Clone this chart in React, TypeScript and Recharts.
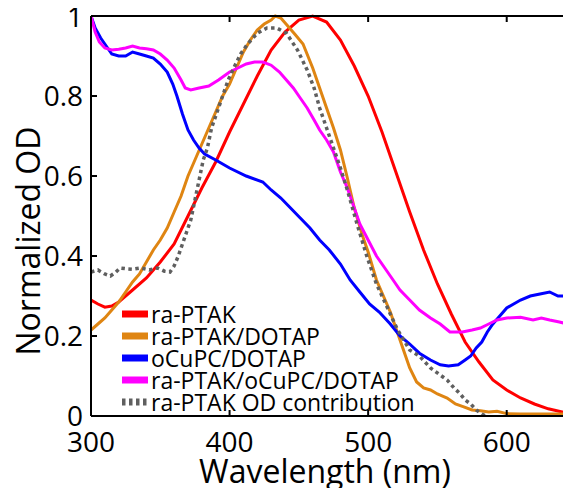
import { LineChart, Line, XAxis, YAxis, Legend } from "recharts";

// wavelength (nm) / normalized OD
const ptakWl = [300, 305, 310, 315, 320, 330, 340, 350, 360, 370, 380, 390, 400, 410, 420, 430, 440, 450, 460, 470, 480, 490, 500, 510, 520, 530, 540, 550, 560, 570, 580, 590, 600, 610, 620, 630, 640, 650];
const ptakOd = [0.29, 0.28, 0.272, 0.275, 0.285, 0.315, 0.345, 0.385, 0.43, 0.5, 0.57, 0.635, 0.71, 0.78, 0.85, 0.915, 0.96, 0.99, 1.0, 0.985, 0.94, 0.875, 0.8, 0.71, 0.61, 0.51, 0.415, 0.33, 0.255, 0.185, 0.135, 0.09, 0.065, 0.045, 0.03, 0.018, 0.01, 0.008];

const dotapWl = [300, 305, 310, 315, 320, 325, 330, 335, 340, 345, 350, 355, 360, 365, 370, 375, 380, 385, 390, 395, 400, 405, 410, 415, 420, 425, 430, 433, 437, 442, 447, 453, 460, 465, 470, 475, 480, 485, 490, 496, 500, 506, 511, 516, 521, 526, 530, 535, 540, 545, 550, 557, 563, 569, 575, 581, 587, 593, 600, 610, 620, 630, 640, 650];
const dotapOd = [0.215, 0.23, 0.245, 0.265, 0.285, 0.31, 0.335, 0.355, 0.385, 0.415, 0.44, 0.47, 0.51, 0.55, 0.6, 0.64, 0.68, 0.72, 0.76, 0.8, 0.83, 0.87, 0.91, 0.94, 0.965, 0.98, 0.99, 1.0, 0.995, 0.975, 0.955, 0.93, 0.87, 0.82, 0.77, 0.72, 0.665, 0.595, 0.52, 0.45, 0.41, 0.34, 0.3, 0.26, 0.21, 0.16, 0.12, 0.085, 0.07, 0.065, 0.055, 0.045, 0.03, 0.023, 0.015, 0.013, 0.01, 0.012, 0.006, 0.005, 0.005, 0.005, 0.005, 0.005];

const cupcWl = [300, 303, 307, 311, 315, 320, 325, 330, 335, 340, 345, 350, 355, 359, 362, 366, 370, 374, 378, 382, 390, 400, 412, 424, 430, 437, 444, 451, 458, 465, 472, 480, 487, 494, 501, 508, 516, 523, 530, 537, 545, 552, 558, 565, 570, 574, 578, 582, 586, 590, 595, 600, 605, 610, 617, 624, 631, 637, 645, 650];
const cupcOd = [1.0, 0.97, 0.945, 0.925, 0.905, 0.9, 0.9, 0.91, 0.905, 0.9, 0.895, 0.88, 0.86, 0.83, 0.8, 0.755, 0.715, 0.69, 0.67, 0.655, 0.64, 0.62, 0.6, 0.585, 0.565, 0.545, 0.52, 0.495, 0.47, 0.44, 0.415, 0.38, 0.34, 0.31, 0.28, 0.26, 0.23, 0.2, 0.18, 0.157, 0.14, 0.128, 0.125, 0.128, 0.14, 0.15, 0.17, 0.185, 0.21, 0.23, 0.25, 0.27, 0.28, 0.29, 0.3, 0.305, 0.31, 0.3, 0.3, 0.3];

const mixWl = [300, 303, 306, 310, 315, 320, 325, 330, 335, 340, 345, 350, 355, 360, 365, 368, 372, 378, 385, 392, 400, 406, 412, 418, 424, 430, 436, 441, 446, 451, 456, 461, 465, 470, 475, 480, 485, 490, 494, 500, 506, 512, 518, 523, 530, 537, 545, 552, 559, 568, 575, 581, 587, 593, 600, 610, 619, 625, 631, 638, 646, 650];
const mixOd = [1.0, 0.96, 0.935, 0.92, 0.915, 0.917, 0.92, 0.925, 0.92, 0.918, 0.915, 0.905, 0.89, 0.87, 0.84, 0.82, 0.815, 0.82, 0.825, 0.84, 0.86, 0.87, 0.88, 0.885, 0.885, 0.877, 0.86, 0.84, 0.82, 0.795, 0.77, 0.74, 0.715, 0.69, 0.66, 0.61, 0.57, 0.52, 0.48, 0.44, 0.4, 0.37, 0.34, 0.315, 0.29, 0.265, 0.245, 0.23, 0.21, 0.21, 0.215, 0.22, 0.23, 0.24, 0.245, 0.247, 0.24, 0.245, 0.24, 0.235, 0.228, 0.228];

const contribWl = [300, 305, 310, 314, 318, 321, 326, 330, 336, 342, 348, 353, 357, 360, 363, 366, 369, 372, 375, 378, 381, 384, 387, 391, 395, 399, 403, 408, 413, 420, 427, 434, 441, 449, 456, 461, 465, 470, 475, 480, 485, 492, 499, 506, 514, 521, 530, 537, 545, 551, 557, 562, 566, 570, 574, 578, 582, 585];
const contribOd = [0.36, 0.365, 0.355, 0.35, 0.36, 0.37, 0.368, 0.367, 0.37, 0.365, 0.37, 0.362, 0.36, 0.375, 0.4, 0.43, 0.46, 0.49, 0.54, 0.59, 0.64, 0.67, 0.72, 0.76, 0.8, 0.84, 0.87, 0.905, 0.93, 0.957, 0.97, 0.97, 0.957, 0.915, 0.865, 0.82, 0.77, 0.72, 0.67, 0.62, 0.565, 0.48, 0.4, 0.33, 0.27, 0.217, 0.165, 0.15, 0.12, 0.105, 0.09, 0.07, 0.057, 0.04, 0.03, 0.015, 0.005, 0];

const seriesNames = ["ra-PTAK", "ra-PTAK/DOTAP", "oCuPC/DOTAP", "ra-PTAK/oCuPC/DOTAP", "ra-PTAK OD contribution"];
const xTicks = [300, 400, 500, 600];
const yTicks = [0, 0.2, 0.4, 0.6, 0.8, 1];

const toPoints = (wl: number[], od: number[]) => wl.map((w, i) => ({ wl: w, od: od[i] }));

const FONT = "'Open Sans', 'DejaVu Sans', sans-serif";
const DOTTED = "3.5 3.5";

// ticks point inward, labels outside
const BottomTick = (props: any) => {
  const { x, y, payload } = props;
  return (
    <g>
      {payload.value !== 300 && <line x1={x} y1={y} x2={x} y2={y - 6} stroke="#000" strokeWidth={2} />}
      <text x={x} y={y + 36} textAnchor="middle" fontSize={28} fontFamily={FONT} fill="#000">
        {payload.value}
      </text>
    </g>
  );
};

const TopTick = (props: any) => {
  const { x, y, payload } = props;
  if (payload.value === 300) return <g />;
  return <line x1={x} y1={y} x2={x} y2={y + 6} stroke="#000" strokeWidth={2} />;
};

const LeftTick = (props: any) => {
  const { x, y, payload } = props;
  const v = payload.value;
  return (
    <g>
      {v !== 0 && v !== 1 && <line x1={x} y1={y} x2={x + 6} y2={y} stroke="#000" strokeWidth={2} />}
      <text x={x - 8} y={y} dy="0.36em" textAnchor="end" fontSize={28} fontFamily={FONT} fill="#000">
        {String(v)}
      </text>
    </g>
  );
};

const xLabel = () => (
  <text x={317} y={475} textAnchor="middle" fontSize={32} fontFamily={FONT} fill="#000">
    Wavelength (nm)
  </text>
);

const yLabel = () => (
  <text x={32} y={233} transform="rotate(-90, 32, 233)" textAnchor="middle" fontSize={32} fontFamily={FONT} fill="#000">
    Normalized OD
  </text>
);

const LegendBox = (props: any) => {
  const { payload = [] } = props;
  // keep the plotting order, not alphabetical
  const items = [...payload].sort((a: any, b: any) => seriesNames.indexOf(a.value) - seriesNames.indexOf(b.value));
  return (
    <div style={{ fontFamily: FONT, fontSize: 23, lineHeight: "22px", color: "#000" }}>
      {items.map((entry: any) => (
        <div key={entry.value} style={{ display: "flex", alignItems: "center", height: 22, whiteSpace: "nowrap" }}>
          <svg width={28} height={22} style={{ marginRight: 1 }}>
            <line
              x1={0}
              y1={11}
              x2={26}
              y2={11}
              stroke={entry.color}
              strokeWidth={7}
              strokeDasharray={entry.value === "ra-PTAK OD contribution" ? DOTTED : undefined}
            />
          </svg>
          <span>{entry.value}</span>
        </div>
      ))}
    </div>
  );
};

export default function App() {
  return (
    <div style={{ width: 563, height: 482, overflow: "hidden", position: "relative" }}>
      <LineChart width={570} height={480} margin={{ top: 0, right: 2, bottom: 0, left: 0 }}>
        <XAxis
          xAxisId="b"
          dataKey="wl"
          type="number"
          domain={[300, 650]}
          allowDataOverflow
          ticks={xTicks}
          height={72}
          tickSize={0}
          tickMargin={0}
          tickLine={false}
          tick={<BottomTick />}
          axisLine={{ stroke: "#000", strokeWidth: 2 }}
          label={xLabel}
        />
        <XAxis
          xAxisId="t"
          orientation="top"
          dataKey="wl"
          type="number"
          domain={[300, 650]}
          allowDataOverflow
          ticks={xTicks}
          height={8}
          tickSize={0}
          tickMargin={0}
          tickLine={false}
          tick={<TopTick />}
          axisLine={{ stroke: "#000", strokeWidth: 2 }}
        />
        <YAxis
          type="number"
          domain={[0, 1]}
          ticks={yTicks}
          width={83}
          tickSize={0}
          tickMargin={0}
          tickLine={false}
          tick={<LeftTick />}
          axisLine={{ stroke: "#000", strokeWidth: 2 }}
          label={yLabel}
        />
        <Legend
          layout="vertical"
          align="center"
          verticalAlign="middle"
          content={<LegendBox />}
          wrapperStyle={{ left: 114, top: 295, width: "auto" }}
        />
        <Line xAxisId="b" name={seriesNames[0]} data={toPoints(ptakWl, ptakOd)} dataKey="od" stroke="#ff0000" strokeWidth={3} dot={false} isAnimationActive={false} />
        <Line xAxisId="b" name={seriesNames[1]} data={toPoints(dotapWl, dotapOd)} dataKey="od" stroke="#df8512" strokeWidth={3} dot={false} isAnimationActive={false} />
        <Line xAxisId="b" name={seriesNames[2]} data={toPoints(cupcWl, cupcOd)} dataKey="od" stroke="#0000ff" strokeWidth={3} dot={false} isAnimationActive={false} />
        <Line xAxisId="b" name={seriesNames[3]} data={toPoints(mixWl, mixOd)} dataKey="od" stroke="#ff00ff" strokeWidth={3} dot={false} isAnimationActive={false} />
        <Line xAxisId="b" name={seriesNames[4]} data={toPoints(contribWl, contribOd)} dataKey="od" stroke="#5f5f5f" strokeWidth={3.5} strokeDasharray={DOTTED} dot={false} isAnimationActive={false} />
      </LineChart>
    </div>
  );
}
